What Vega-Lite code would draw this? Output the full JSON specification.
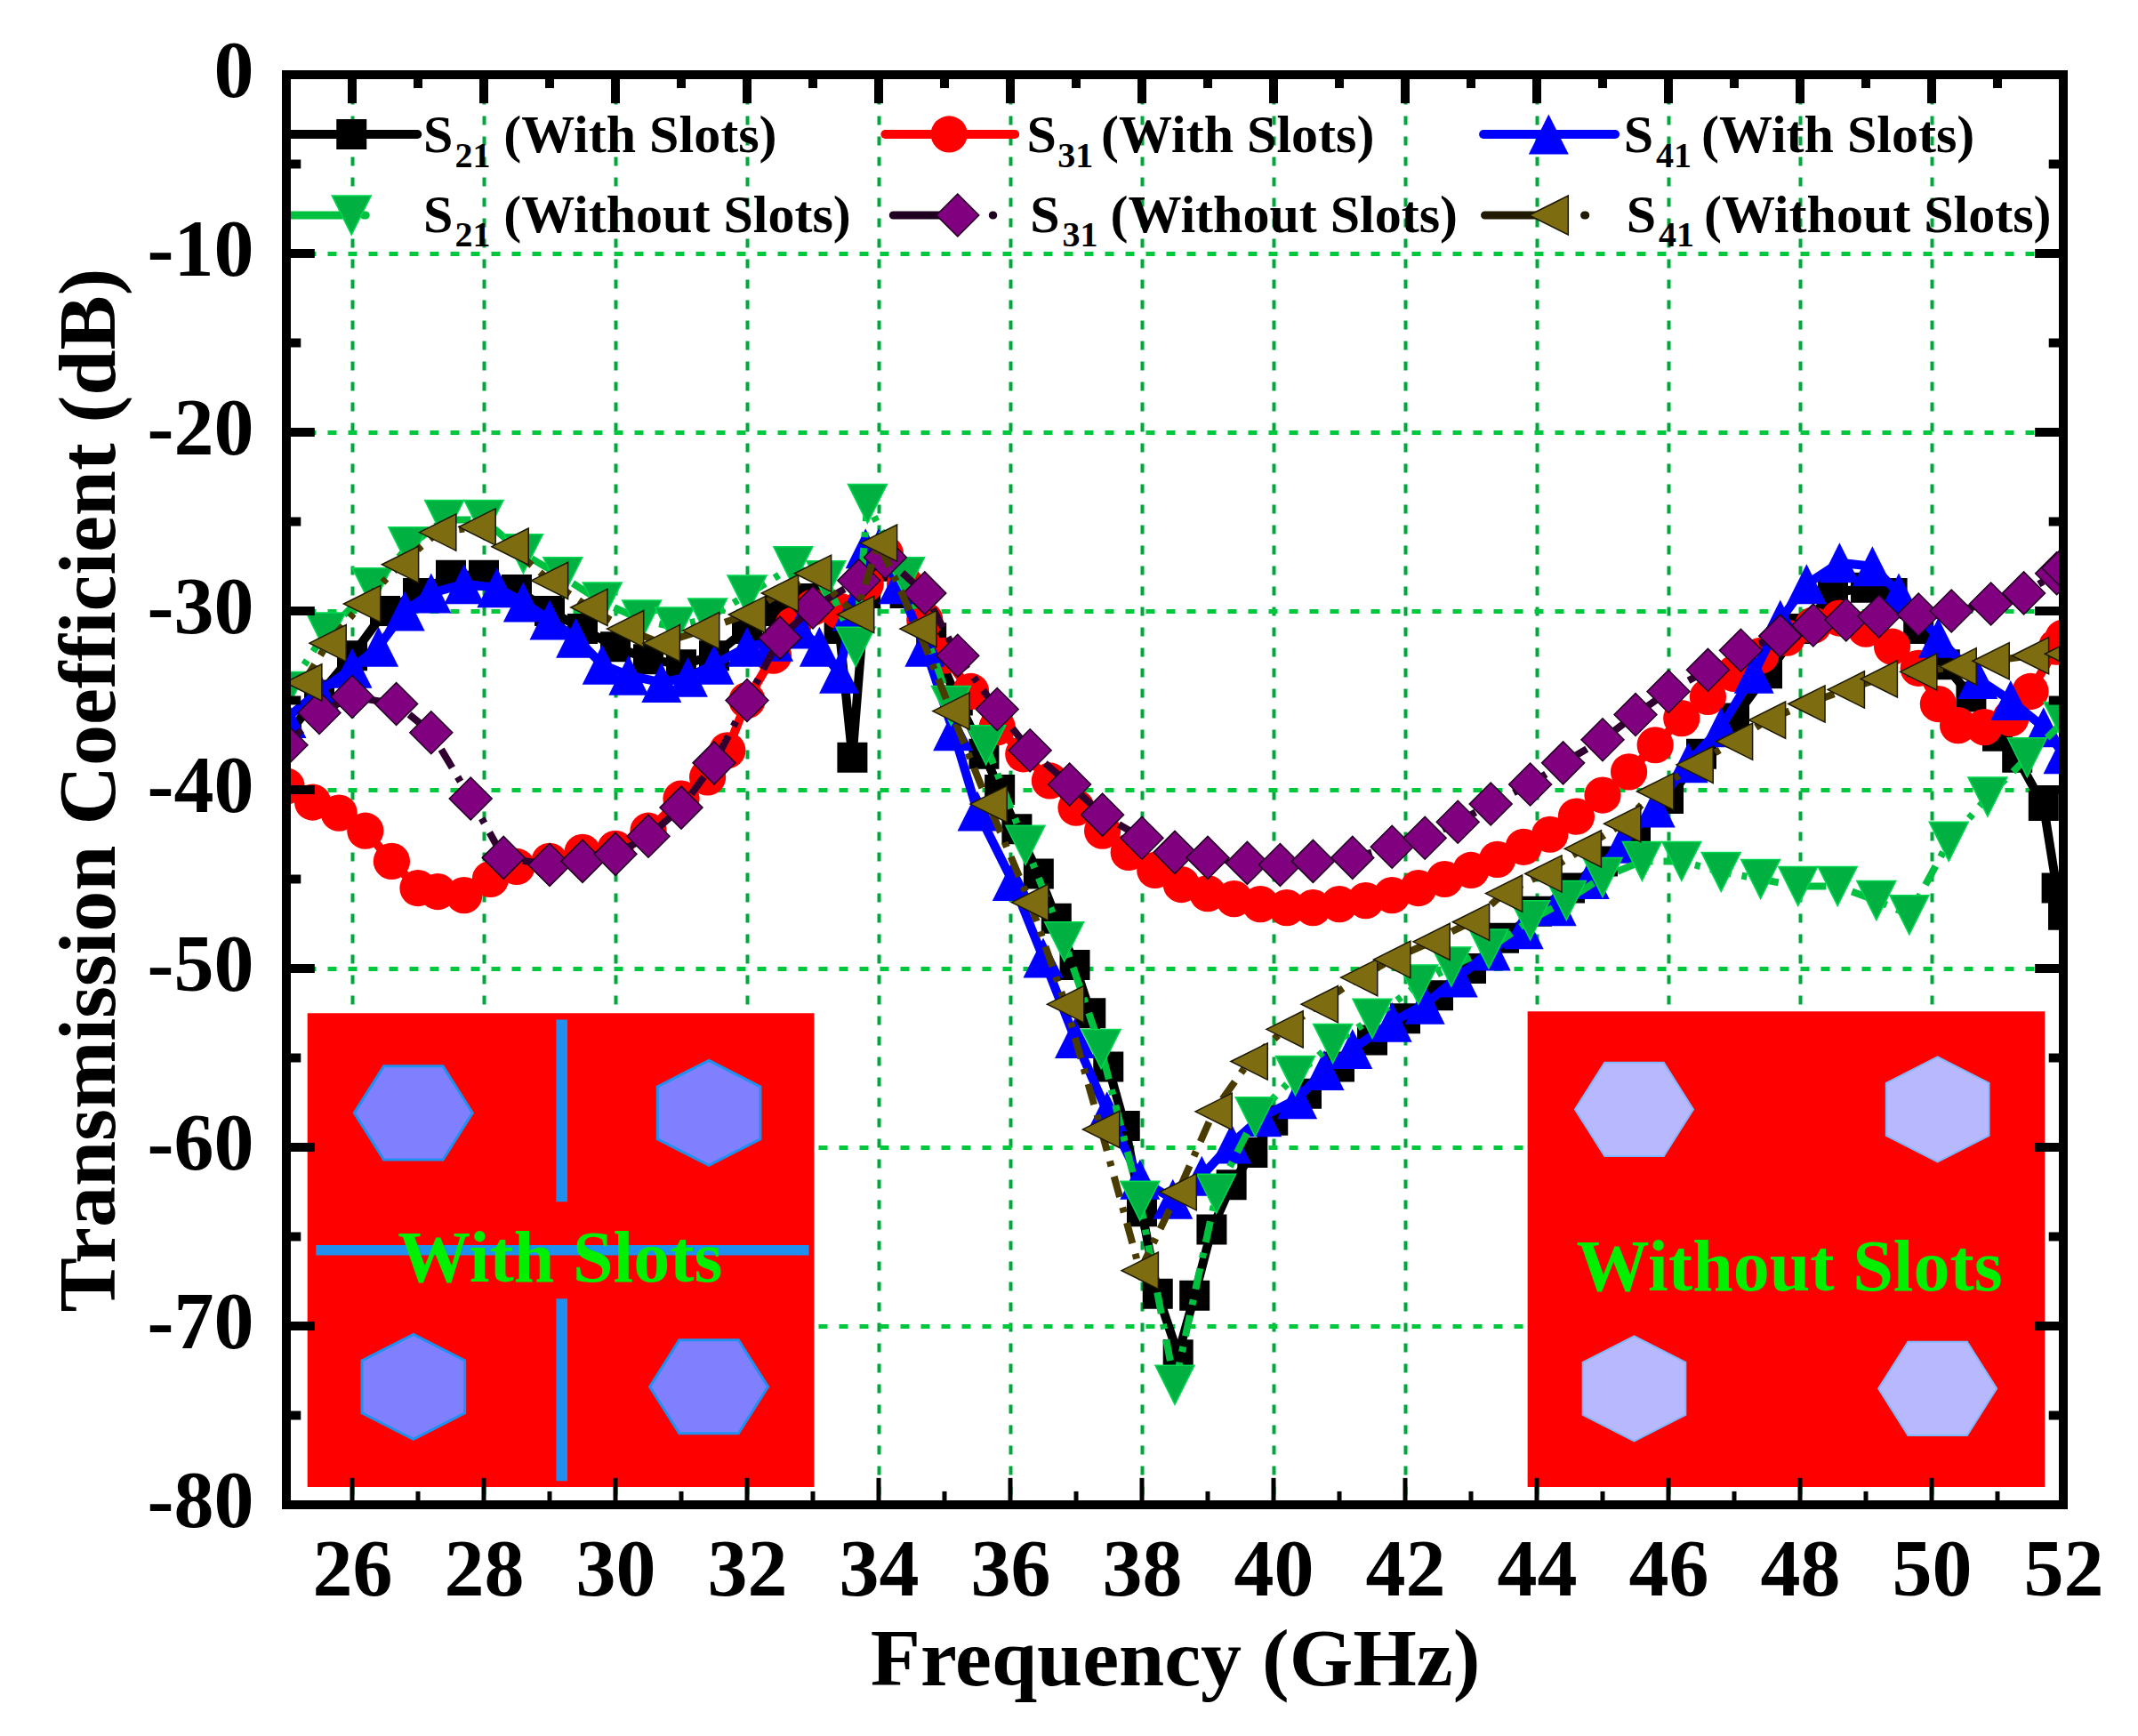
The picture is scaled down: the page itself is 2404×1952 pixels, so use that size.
{
"$schema":"https://vega.github.io/schema/vega-lite/v6.json",
"autosize":{"type":"none"},
"width":1998,"height":1608,
"padding":{"left":322,"top":84,"right":84,"bottom":260},
"background":"white",
"config":{"view":{"stroke":null},"font":"Liberation Serif"},
"datasets":{
"s21w":[{"f":25,"db":-37},{"f":25.5,"db":-34.7},{"f":26,"db":-32.5},{"f":26.5,"db":-30},{"f":27,"db":-29},{"f":27.5,"db":-28},{"f":28,"db":-28},{"f":28.5,"db":-28.8},{"f":29,"db":-30},{"f":29.5,"db":-31},{"f":30,"db":-32},{"f":30.5,"db":-32.7},{"f":31,"db":-33},{"f":31.5,"db":-32.5},{"f":32,"db":-31},{"f":32.5,"db":-30},{"f":33,"db":-29.3},{"f":33.4,"db":-31},{"f":33.6,"db":-38.2},{"f":33.8,"db":-29},{"f":34,"db":-27.5},{"f":34.4,"db":-29},{"f":34.8,"db":-31.5},{"f":35.2,"db":-35},{"f":35.6,"db":-38},{"f":35.84,"db":-40},{"f":36.1,"db":-42.2},{"f":36.43,"db":-44.7},{"f":36.7,"db":-47.2},{"f":36.98,"db":-49.8},{"f":37.22,"db":-52.5},{"f":37.49,"db":-55.5},{"f":37.74,"db":-58.8},{"f":38,"db":-63.6},{"f":38.24,"db":-68.2},{"f":38.55,"db":-71.6},{"f":38.8,"db":-68.3},{"f":39.06,"db":-64.6},{"f":39.36,"db":-62.1},{"f":39.68,"db":-60.3},{"f":39.99,"db":-58.5},{"f":40.5,"db":-57},{"f":41,"db":-55.5},{"f":41.5,"db":-54},{"f":42,"db":-52.8},{"f":42.5,"db":-51.5},{"f":43,"db":-50},{"f":43.5,"db":-48.3},{"f":44,"db":-46.8},{"f":44.5,"db":-45.5},{"f":45,"db":-44},{"f":45.5,"db":-42.5},{"f":46,"db":-40.5},{"f":46.5,"db":-38},{"f":47,"db":-36},{"f":47.5,"db":-33.5},{"f":48,"db":-31},{"f":48.5,"db":-29},{"f":49,"db":-28.7},{"f":49.4,"db":-29},{"f":49.8,"db":-31},{"f":50.2,"db":-33},{"f":50.6,"db":-34.8},{"f":51,"db":-37},{"f":51.3,"db":-38.2},{"f":51.7,"db":-40.9},{"f":51.9,"db":-45.5},{"f":52,"db":-47}],
"s31w":[{"f":25,"db":-39.8},{"f":25.4,"db":-40.7},{"f":25.8,"db":-41.3},{"f":26.2,"db":-42.3},{"f":26.6,"db":-44},{"f":27,"db":-45.5},{"f":27.3,"db":-45.7},{"f":27.7,"db":-45.9},{"f":28.1,"db":-45},{"f":28.5,"db":-44.3},{"f":29,"db":-44},{"f":29.5,"db":-43.5},{"f":30,"db":-43.3},{"f":30.5,"db":-42.3},{"f":31,"db":-40.5},{"f":31.4,"db":-39.3},{"f":31.7,"db":-37.8},{"f":32,"db":-35},{"f":32.4,"db":-32.5},{"f":32.7,"db":-30.8},{"f":33,"db":-29.8},{"f":33.4,"db":-30},{"f":33.8,"db":-28.5},{"f":34.1,"db":-26.8},{"f":34.4,"db":-28.5},{"f":34.7,"db":-30.5},{"f":35,"db":-32.5},{"f":35.4,"db":-34.5},{"f":35.8,"db":-36.5},{"f":36.2,"db":-38},{"f":36.6,"db":-39.5},{"f":37,"db":-41},{"f":37.4,"db":-42.3},{"f":37.8,"db":-43.5},{"f":38.2,"db":-44.5},{"f":38.6,"db":-45.3},{"f":39,"db":-45.8},{"f":39.4,"db":-46.1},{"f":39.8,"db":-46.4},{"f":40.2,"db":-46.6},{"f":40.6,"db":-46.6},{"f":41,"db":-46.4},{"f":41.4,"db":-46.2},{"f":41.8,"db":-45.9},{"f":42.2,"db":-45.5},{"f":42.6,"db":-45},{"f":43,"db":-44.5},{"f":43.4,"db":-43.9},{"f":43.8,"db":-43.2},{"f":44.2,"db":-42.5},{"f":44.6,"db":-41.5},{"f":45,"db":-40.3},{"f":45.4,"db":-39},{"f":45.8,"db":-37.5},{"f":46.2,"db":-36},{"f":46.6,"db":-34.8},{"f":47,"db":-33.5},{"f":47.4,"db":-32.5},{"f":47.8,"db":-31.5},{"f":48.2,"db":-30.8},{"f":48.6,"db":-30.4},{"f":49,"db":-31},{"f":49.4,"db":-32},{"f":49.8,"db":-33.2},{"f":50.1,"db":-35.2},{"f":50.4,"db":-36.4},{"f":50.8,"db":-36.5},{"f":51.2,"db":-36},{"f":51.5,"db":-34.5},{"f":51.9,"db":-32},{"f":52,"db":-31.5}],
"s41w":[{"f":25,"db":-36},{"f":25.5,"db":-34.5},{"f":26,"db":-33.2},{"f":26.4,"db":-32},{"f":26.8,"db":-30},{"f":27.2,"db":-29},{"f":27.7,"db":-28.5},{"f":28.2,"db":-28.7},{"f":28.6,"db":-29.5},{"f":29,"db":-30.5},{"f":29.4,"db":-31.5},{"f":29.8,"db":-33},{"f":30.2,"db":-33.6},{"f":30.7,"db":-34},{"f":31.1,"db":-33.7},{"f":31.5,"db":-33},{"f":32,"db":-32},{"f":32.4,"db":-31.7},{"f":32.8,"db":-31},{"f":33.1,"db":-32},{"f":33.4,"db":-33.5},{"f":33.6,"db":-30},{"f":33.8,"db":-26.5},{"f":34,"db":-26.5},{"f":34.3,"db":-28.5},{"f":34.7,"db":-32},{"f":35.13,"db":-36.7},{"f":35.5,"db":-41.2},{"f":36.03,"db":-45.1},{"f":36.5,"db":-49.4},{"f":36.98,"db":-53.9},{"f":37.47,"db":-58},{"f":37.97,"db":-61.8},{"f":38.47,"db":-62.9},{"f":38.91,"db":-61.6},{"f":39.36,"db":-59.8},{"f":39.82,"db":-58.3},{"f":40.36,"db":-57.3},{"f":40.77,"db":-55.7},{"f":41.2,"db":-54.5},{"f":41.8,"db":-53},{"f":42.3,"db":-52},{"f":42.8,"db":-50.5},{"f":43.3,"db":-49},{"f":43.8,"db":-47.8},{"f":44.3,"db":-46.5},{"f":44.8,"db":-45},{"f":45.3,"db":-43},{"f":45.8,"db":-41},{"f":46.3,"db":-38.5},{"f":46.8,"db":-36.5},{"f":47.3,"db":-33.5},{"f":47.7,"db":-30.5},{"f":48.1,"db":-28.5},{"f":48.6,"db":-27.3},{"f":49.1,"db":-27.5},{"f":49.5,"db":-29},{"f":50.1,"db":-31.5},{"f":50.7,"db":-33.8},{"f":51.2,"db":-35},{"f":51.7,"db":-36.5},{"f":52,"db":-38}],
"s21n":[{"f":25,"db":-34.5},{"f":25.6,"db":-31.2},{"f":26.3,"db":-28.7},{"f":26.85,"db":-26.4},{"f":27.4,"db":-24.9},{"f":28,"db":-24.9},{"f":28.6,"db":-26.8},{"f":29.2,"db":-28.1},{"f":29.8,"db":-29.5},{"f":30.4,"db":-30.5},{"f":30.9,"db":-30.9},{"f":31.4,"db":-30.4},{"f":32,"db":-29.1},{"f":32.7,"db":-27.5},{"f":33.2,"db":-28.3},{"f":33.65,"db":-32},{"f":33.83,"db":-24},{"f":34.4,"db":-28.1},{"f":35.1,"db":-35.3},{"f":35.63,"db":-37.5},{"f":36.23,"db":-43.1},{"f":36.82,"db":-48.5},{"f":37.38,"db":-54.5},{"f":37.97,"db":-63},{"f":38.5,"db":-73.3},{"f":39.13,"db":-62.6},{"f":39.72,"db":-58.3},{"f":40.33,"db":-56},{"f":40.9,"db":-54.2},{"f":41.5,"db":-52.8},{"f":42.2,"db":-50.9},{"f":42.7,"db":-49.9},{"f":43.27,"db":-48.9},{"f":43.9,"db":-47.3},{"f":44.45,"db":-46.2},{"f":45,"db":-44.9},{"f":45.6,"db":-44},{"f":46.2,"db":-44},{"f":46.8,"db":-44.6},{"f":47.4,"db":-45},{"f":47.97,"db":-45.4},{"f":48.57,"db":-45.4},{"f":49.16,"db":-46.2},{"f":49.66,"db":-47},{"f":50.26,"db":-42.9},{"f":50.85,"db":-40.4},{"f":51.45,"db":-38.2},{"f":52,"db":-36.2}],
"s31n":[{"f":25,"db":-37.5},{"f":25.5,"db":-35.7},{"f":26,"db":-34.8},{"f":26.67,"db":-35.2},{"f":27.2,"db":-36.8},{"f":27.8,"db":-40.5},{"f":28.3,"db":-43.8},{"f":29,"db":-44.2},{"f":29.5,"db":-44},{"f":30,"db":-43.6},{"f":30.5,"db":-42.6},{"f":31,"db":-41},{"f":31.5,"db":-38.5},{"f":32,"db":-35},{"f":32.5,"db":-31.5},{"f":33,"db":-29.8},{"f":33.7,"db":-28.3},{"f":34.1,"db":-27},{"f":34.7,"db":-29},{"f":35.2,"db":-32.5},{"f":35.8,"db":-35.5},{"f":36.3,"db":-37.8},{"f":36.9,"db":-39.7},{"f":37.4,"db":-41.4},{"f":38,"db":-42.7},{"f":38.5,"db":-43.5},{"f":39,"db":-43.8},{"f":39.6,"db":-44.1},{"f":40.1,"db":-44.2},{"f":40.6,"db":-44},{"f":41.2,"db":-43.8},{"f":41.8,"db":-43.2},{"f":42.3,"db":-42.7},{"f":42.8,"db":-41.8},{"f":43.3,"db":-40.8},{"f":43.9,"db":-39.7},{"f":44.4,"db":-38.5},{"f":45,"db":-37.2},{"f":45.5,"db":-35.8},{"f":46,"db":-34.5},{"f":46.6,"db":-33.3},{"f":47.1,"db":-32.2},{"f":47.7,"db":-31.4},{"f":48.2,"db":-30.8},{"f":48.7,"db":-30.5},{"f":49.2,"db":-30.3},{"f":49.8,"db":-30.2},{"f":50.3,"db":-30},{"f":50.9,"db":-29.6},{"f":51.4,"db":-29},{"f":51.9,"db":-27.9},{"f":52,"db":-27.6}],
"s41n":[{"f":25.26,"db":-34},{"f":25.63,"db":-31.8},{"f":26.15,"db":-29.6},{"f":26.73,"db":-27.4},{"f":27.3,"db":-25.6},{"f":27.9,"db":-25.3},{"f":28.4,"db":-26.4},{"f":29,"db":-28.3},{"f":29.6,"db":-29.8},{"f":30.15,"db":-31},{"f":30.7,"db":-31.8},{"f":31.3,"db":-31.1},{"f":32,"db":-30.2},{"f":32.5,"db":-29},{"f":33,"db":-27.9},{"f":33.65,"db":-30.2},{"f":34,"db":-26.2},{"f":34.6,"db":-31},{"f":35.1,"db":-35.6},{"f":35.67,"db":-40.8},{"f":36.3,"db":-46.3},{"f":36.84,"db":-52},{"f":37.38,"db":-59},{"f":37.97,"db":-66.9},{"f":38.55,"db":-62.5},{"f":39.09,"db":-58},{"f":39.63,"db":-55.2},{"f":40.17,"db":-53.4},{"f":40.7,"db":-52},{"f":41.3,"db":-50.5},{"f":41.8,"db":-49.5},{"f":42.4,"db":-48.5},{"f":43,"db":-47.4},{"f":43.5,"db":-45.8},{"f":44.1,"db":-44.7},{"f":44.7,"db":-43.3},{"f":45.3,"db":-41.9},{"f":45.8,"db":-40.1},{"f":46.4,"db":-38.6},{"f":47,"db":-37.3},{"f":47.5,"db":-36.1},{"f":48.1,"db":-35.2},{"f":48.7,"db":-34.4},{"f":49.2,"db":-33.8},{"f":49.8,"db":-33.4},{"f":50.4,"db":-33.1},{"f":50.9,"db":-32.8},{"f":51.5,"db":-32.5},{"f":52,"db":-32.4}],
"bottomTicks":[{"f":26,"db":-80,"db2":-78.5},{"f":27,"db":-80,"db2":-79.25},{"f":28,"db":-80,"db2":-78.5},{"f":29,"db":-80,"db2":-79.25},{"f":30,"db":-80,"db2":-78.5},{"f":31,"db":-80,"db2":-79.25},{"f":32,"db":-80,"db2":-78.5},{"f":33,"db":-80,"db2":-79.25},{"f":34,"db":-80,"db2":-78.5},{"f":35,"db":-80,"db2":-79.25},{"f":36,"db":-80,"db2":-78.5},{"f":37,"db":-80,"db2":-79.25},{"f":38,"db":-80,"db2":-78.5},{"f":39,"db":-80,"db2":-79.25},{"f":40,"db":-80,"db2":-78.5},{"f":41,"db":-80,"db2":-79.25},{"f":42,"db":-80,"db2":-78.5},{"f":43,"db":-80,"db2":-79.25},{"f":44,"db":-80,"db2":-78.5},{"f":45,"db":-80,"db2":-79.25},{"f":46,"db":-80,"db2":-78.5},{"f":47,"db":-80,"db2":-79.25},{"f":48,"db":-80,"db2":-78.5},{"f":49,"db":-80,"db2":-79.25},{"f":50,"db":-80,"db2":-78.5},{"f":51,"db":-80,"db2":-79.25}],
"topTicks":[{"f":26,"db":0,"db2":-1.6},{"f":27,"db":0,"db2":-0.75},{"f":28,"db":0,"db2":-1.6},{"f":29,"db":0,"db2":-0.75},{"f":30,"db":0,"db2":-1.6},{"f":31,"db":0,"db2":-0.75},{"f":32,"db":0,"db2":-1.6},{"f":33,"db":0,"db2":-0.75},{"f":34,"db":0,"db2":-1.6},{"f":35,"db":0,"db2":-0.75},{"f":36,"db":0,"db2":-1.6},{"f":37,"db":0,"db2":-0.75},{"f":38,"db":0,"db2":-1.6},{"f":39,"db":0,"db2":-0.75},{"f":40,"db":0,"db2":-1.6},{"f":41,"db":0,"db2":-0.75},{"f":42,"db":0,"db2":-1.6},{"f":43,"db":0,"db2":-0.75},{"f":44,"db":0,"db2":-1.6},{"f":45,"db":0,"db2":-0.75},{"f":46,"db":0,"db2":-1.6},{"f":47,"db":0,"db2":-0.75},{"f":48,"db":0,"db2":-1.6},{"f":49,"db":0,"db2":-0.75},{"f":50,"db":0,"db2":-1.6},{"f":51,"db":0,"db2":-0.75}],
"sideTicks":[{"db":-5,"f":25,"f2":25.22},{"db":-10,"f":25,"f2":25.43},{"db":-15,"f":25,"f2":25.22},{"db":-20,"f":25,"f2":25.43},{"db":-25,"f":25,"f2":25.22},{"db":-30,"f":25,"f2":25.43},{"db":-35,"f":25,"f2":25.22},{"db":-40,"f":25,"f2":25.43},{"db":-45,"f":25,"f2":25.22},{"db":-50,"f":25,"f2":25.43},{"db":-55,"f":25,"f2":25.22},{"db":-60,"f":25,"f2":25.43},{"db":-65,"f":25,"f2":25.22},{"db":-70,"f":25,"f2":25.43},{"db":-75,"f":25,"f2":25.22},{"db":-80,"f":25,"f2":25.43},{"db":-5,"f":52,"f2":51.78},{"db":-10,"f":52,"f2":51.57},{"db":-15,"f":52,"f2":51.78},{"db":-20,"f":52,"f2":51.57},{"db":-25,"f":52,"f2":51.78},{"db":-30,"f":52,"f2":51.57},{"db":-35,"f":52,"f2":51.78},{"db":-40,"f":52,"f2":51.57},{"db":-45,"f":52,"f2":51.78},{"db":-50,"f":52,"f2":51.57},{"db":-55,"f":52,"f2":51.78},{"db":-60,"f":52,"f2":51.57},{"db":-65,"f":52,"f2":51.78},{"db":-70,"f":52,"f2":51.57},{"db":-75,"f":52,"f2":51.78}],
"legendSolid":[{"series":"S21 With","f":25.07,"db":-3.33},{"series":"S21 With","f":26.99,"db":-3.33},{"series":"S31 With","f":34.1,"db":-3.33},{"series":"S31 With","f":36.07,"db":-3.33},{"series":"S41 With","f":43.19,"db":-3.33},{"series":"S41 With","f":45.19,"db":-3.33}],
"legendDash":[{"series":"S21 Without","f":25.03,"db":-7.86},{"series":"S21 Without","f":26.49,"db":-7.86},{"series":"S31 Without","f":34.22,"db":-7.86},{"series":"S31 Without","f":35.74,"db":-7.86},{"series":"S41 Without","f":43.21,"db":-7.86},{"series":"S41 Without","f":44.74,"db":-7.86}],
"legendMarks":[{"series":"S21 With","f":25.99,"db":-3.33},{"series":"S31 With","f":35.07,"db":-3.33},{"series":"S41 With","f":44.18,"db":-3.33},{"series":"S21 Without","f":25.99,"db":-7.86},{"series":"S31 Without","f":35.2,"db":-7.86},{"series":"S41 Without","f":44.18,"db":-7.86}],
"legendText":[{"label":"S","f":27.08,"db":-4.33},{"label":"(With Slots)","f":28.3,"db":-4.33},{"label":"S","f":36.25,"db":-4.33},{"label":"(With Slots)","f":37.38,"db":-4.33},{"label":"S","f":45.32,"db":-4.33},{"label":"(With Slots)","f":46.5,"db":-4.33},{"label":"S","f":27.08,"db":-8.8},{"label":"(Without Slots)","f":28.3,"db":-8.8},{"label":"S","f":36.3,"db":-8.8},{"label":"(Without Slots)","f":37.52,"db":-8.8},{"label":"S","f":45.36,"db":-8.8},{"label":"(Without Slots)","f":46.54,"db":-8.8}],
"legendSub":[{"label":"21","f":27.56,"db":-5.17},{"label":"31","f":36.72,"db":-5.17},{"label":"41","f":45.81,"db":-5.17},{"label":"21","f":27.56,"db":-9.6},{"label":"31","f":36.79,"db":-9.6},{"label":"41","f":45.85,"db":-9.6}],
"boards":[{"f":25.32,"f2":33.02,"db":-52.5,"db2":-79.0},{"f":43.86,"f2":51.72,"db":-52.4,"db2":-79.0}],
"slots":[{"f":29.1,"f2":29.27,"db":-52.86,"db2":-63.05},{"f":29.1,"f2":29.27,"db":-68.47,"db2":-78.67},{"f":25.45,"f2":32.94,"db":-65.47,"db2":-66.04}],
"insetLabels":[{"label":"With Slots","f":29.16,"db":-67.5},{"label":"Without Slots","f":47.84,"db":-68}]
},
"encoding":{
"x":{"field":"f","type":"quantitative","scale":{"domain":[25,52],"nice":false,"zero":false},
"axis":{"values":[26,28,30,32,34,36,38,40,42,44,46,48,50,52],"title":"Frequency (GHz)","domain":false,"ticks":false,"labelFont":"Liberation Serif","labelFontWeight":"bold","labelFontSize":90,"labelColor":"black","labelPadding":30,"labelBaseline":"top","labelOverlap":false,"labelFlush":false,"titleFont":"Liberation Serif","titleFontWeight":"bold","titleFontSize":92,"titleColor":"black","titlePadding":10,"grid":true,"gridColor":"#00a83c","gridWidth":4,"gridDash":[10,13]}},
"y":{"field":"db","type":"quantitative","scale":{"domain":[-80,0],"nice":false,"zero":false},
"axis":{"values":[0,-10,-20,-30,-40,-50,-60,-70,-80],"labelExpr":"'' + datum.value","title":"Transmission Coefficient (dB)","domain":false,"ticks":false,"labelFont":"Liberation Serif","labelFontWeight":"bold","labelFontSize":90,"labelColor":"black","labelPadding":37,"labelOffset":-3,"labelOverlap":false,"labelFlush":false,"labelBaseline":"middle","titleFont":"Liberation Serif","titleFontWeight":"bold","titleFontSize":92,"titleColor":"black","titlePadding":18,"grid":true,"gridColor":"#00c83c","gridWidth":5,"gridDash":[10,13]}}
},
"layer":[
{"data":{"name":"s21w"},"layer":[{"mark":{"type":"line","color":"#000000","strokeWidth":10,"clip":true}},{"mark":{"type":"point","shape":"square","filled":true,"color":"#000000","size":1156,"opacity":1,"clip":true}}]},
{"data":{"name":"s31w"},"layer":[{"mark":{"type":"line","color":"#ff0000","strokeWidth":10,"clip":true}},{"mark":{"type":"point","shape":"circle","filled":true,"color":"#ff0000","size":1700,"opacity":1,"clip":true}}]},
{"data":{"name":"s41w"},"layer":[{"mark":{"type":"line","color":"#0000ff","strokeWidth":10,"clip":true}},{"mark":{"type":"point","shape":"M0,-1L1,1L-1,1Z","filled":true,"color":"#0000ff","size":2025,"opacity":1,"clip":true}}]},
{"data":{"name":"s21n"},"layer":[{"mark":{"type":"line","color":"#00c040","strokeWidth":8,"strokeDash":[24,12,6,12],"clip":true}},{"mark":{"type":"point","shape":"M-1,-1L1,-1L0,1Z","filled":true,"fill":"#00b040","stroke":"#00d850","strokeWidth":1.5,"size":1936,"opacity":1,"clip":true}}]},
{"data":{"name":"s31n"},"layer":[{"mark":{"type":"line","color":"#300030","strokeWidth":8,"strokeDash":[24,12,6,12],"clip":true}},{"mark":{"type":"point","shape":"diamond","filled":true,"fill":"#800080","stroke":"#200020","strokeWidth":1.5,"size":2300,"opacity":1,"clip":true}}]},
{"data":{"name":"s41n"},"layer":[{"mark":{"type":"line","color":"#4a3c00","strokeWidth":8,"strokeDash":[24,12,6,12],"clip":true}},{"mark":{"type":"point","shape":"M-1,0L1,-1L1,1Z","filled":true,"fill":"#7d6c10","stroke":"#1c1800","strokeWidth":1.5,"size":1700,"opacity":1,"clip":true}}]},
{"data":{"name":"boards"},"mark":{"type":"rect","color":"#ff0000"},"encoding":{"x2":{"field":"f2"},"y2":{"field":"db2"}}},
{"data":{"name":"slots"},"mark":{"type":"rect","color":"#2090ee"},"encoding":{"x2":{"field":"f2"},"y2":{"field":"db2"}}},
{"data":{"values":[{"f":26.93,"db":-58.08},{"f":31.42,"db":-73.4}]},"mark":{"type":"point","shape":"M-1,0L-0.5,-0.79L0.5,-0.79L1,0L0.5,0.79L-0.5,0.79Z","filled":true,"fill":"#8080ff","stroke":"#2090f0","strokeWidth":3,"size":17689,"opacity":1}},
{"data":{"values":[{"f":31.42,"db":-58.08},{"f":26.93,"db":-73.4}]},"mark":{"type":"point","shape":"M0,-1L0.98,-0.5L0.98,0.5L0,1L-0.98,0.5L-0.98,-0.5Z","filled":true,"fill":"#8080ff","stroke":"#2090f0","strokeWidth":3,"size":13924,"opacity":1}},
{"data":{"values":[{"f":45.48,"db":-57.88},{"f":50.09,"db":-73.5}]},"mark":{"type":"point","shape":"M-1,0L-0.5,-0.79L0.5,-0.79L1,0L0.5,0.79L-0.5,0.79Z","filled":true,"fill":"#b8b8ff","stroke":"#80b8ff","strokeWidth":2,"size":17689,"opacity":1}},
{"data":{"values":[{"f":50.09,"db":-57.88},{"f":45.48,"db":-73.5}]},"mark":{"type":"point","shape":"M0,-1L0.98,-0.5L0.98,0.5L0,1L-0.98,0.5L-0.98,-0.5Z","filled":true,"fill":"#b8b8ff","stroke":"#80b8ff","strokeWidth":2,"size":13924,"opacity":1}},
{"data":{"name":"insetLabels"},"mark":{"type":"text","font":"Liberation Serif","fontWeight":"bold","fontSize":82,"color":"#00f000","align":"center","baseline":"alphabetic"},"encoding":{"text":{"field":"label"}}},
{"data":{"name":"legendSolid"},"mark":{"type":"line","strokeWidth":10,"strokeCap":"round"},"encoding":{"color":{"field":"series","scale":{"domain":["S21 With","S31 With","S41 With"],"range":["#000000","#ff0000","#0000ff"]},"legend":null},"detail":{"field":"series"}}},
{"data":{"name":"legendDash"},"mark":{"type":"line","strokeWidth":9,"strokeCap":"round","strokeDash":[60,25,2,25]},"encoding":{"stroke":{"field":"series","scale":{"domain":["S21 Without","S31 Without","S41 Without"],"range":["#00c040","#200020","#201a00"]},"legend":null},"detail":{"field":"series"}}},
{"data":{"name":"legendMarks"},"transform":[{"filter":"datum.series=='S21 With'"}],"mark":{"type":"point","shape":"square","filled":true,"color":"#000000","size":1156,"opacity":1}},
{"data":{"name":"legendMarks"},"transform":[{"filter":"datum.series=='S31 With'"}],"mark":{"type":"point","shape":"circle","filled":true,"color":"#ff0000","size":1700,"opacity":1}},
{"data":{"name":"legendMarks"},"transform":[{"filter":"datum.series=='S41 With'"}],"mark":{"type":"point","shape":"M0,-1L1,1L-1,1Z","filled":true,"color":"#0000ff","size":2025,"opacity":1}},
{"data":{"name":"legendMarks"},"transform":[{"filter":"datum.series=='S21 Without'"}],"mark":{"type":"point","shape":"M-1,-1L1,-1L0,1Z","filled":true,"fill":"#00b040","stroke":"#00d850","strokeWidth":1.5,"size":1936,"opacity":1}},
{"data":{"name":"legendMarks"},"transform":[{"filter":"datum.series=='S31 Without'"}],"mark":{"type":"point","shape":"diamond","filled":true,"fill":"#800080","stroke":"#200020","strokeWidth":1.5,"size":2300,"opacity":1}},
{"data":{"name":"legendMarks"},"transform":[{"filter":"datum.series=='S41 Without'"}],"mark":{"type":"point","shape":"M-1,0L1,-1L1,1Z","filled":true,"fill":"#7d6c10","stroke":"#1c1800","strokeWidth":1.5,"size":1936,"opacity":1}},
{"data":{"name":"legendText"},"mark":{"type":"text","font":"Liberation Serif","fontWeight":"bold","fontSize":60,"color":"black","align":"left","baseline":"alphabetic"},"encoding":{"text":{"field":"label"}}},
{"data":{"name":"legendSub"},"mark":{"type":"text","font":"Liberation Serif","fontWeight":"bold","fontSize":40,"color":"black","align":"left","baseline":"alphabetic"},"encoding":{"text":{"field":"label"}}},
{"data":{"name":"bottomTicks"},"mark":{"type":"rule","color":"black","strokeWidth":5},"encoding":{"y2":{"field":"db2"}}},
{"data":{"name":"topTicks"},"mark":{"type":"rule","color":"black","strokeWidth":10},"encoding":{"y2":{"field":"db2"}}},
{"data":{"name":"sideTicks"},"mark":{"type":"rule","color":"black","strokeWidth":10},"encoding":{"x2":{"field":"f2"}}},
{"data":{"values":[{"f":25,"f2":52,"db":0,"db2":-80}]},"mark":{"type":"rect","fillOpacity":0,"stroke":"black","strokeWidth":10},"encoding":{"x2":{"field":"f2"},"y2":{"field":"db2"}}}
]
}
